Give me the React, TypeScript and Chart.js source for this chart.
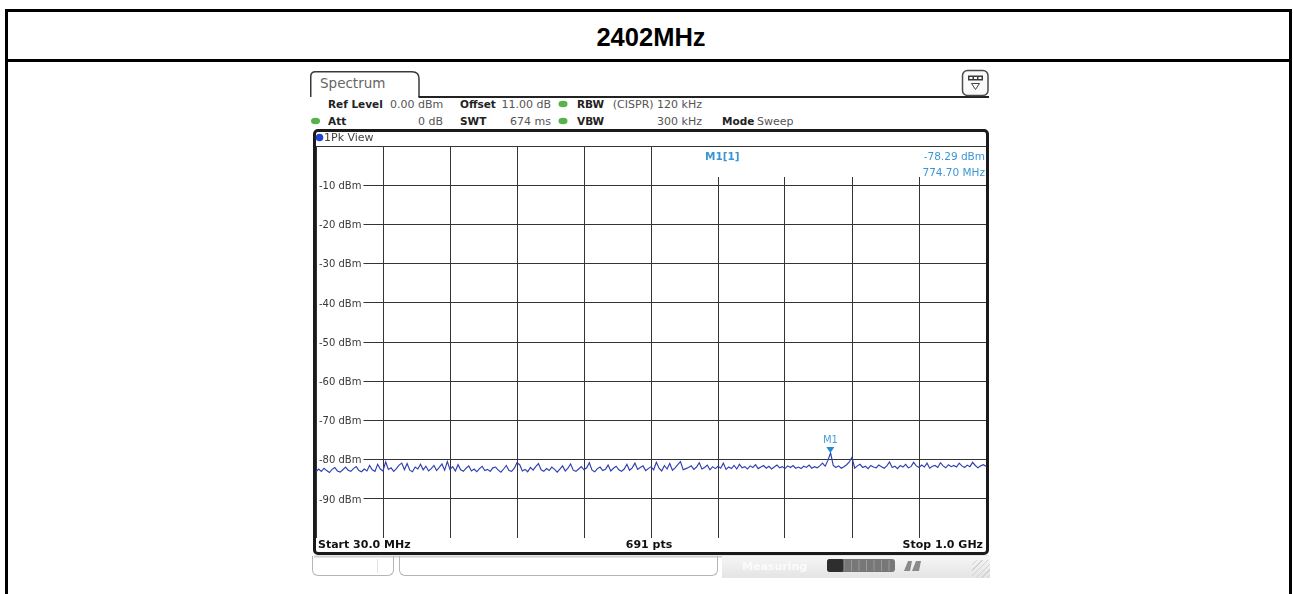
import React, { useEffect, useRef } from 'react';
import { Chart, registerables } from 'chart.js';

Chart.register(...registerables);

// ---------- data ----------
const TITLE = '2402MHz';
const START_MHZ = 30;
const STOP_MHZ = 1000;
const TOP_DBM = 0;
const BOTTOM_DBM = -100;
const Y_TICKS = [-10, -20, -30, -40, -50, -60, -70, -80, -90];
const X_DIVISIONS = 10;
const SWEEP_POINTS = 691;
const MARKER_NAME = 'M1';
const MARKER_FREQ_MHZ = 774.7;
const MARKER_LEVEL_DBM = -78.29;

const HEADER_ROW1 = ['Ref Level', '0.00 dBm', 'Offset', '11.00 dB', 'RBW', '(CISPR) 120 kHz'];
const HEADER_ROW2 = ['Att', '0 dB', 'SWT', '674 ms', 'VBW', '300 kHz', 'Mode', 'Sweep'];

// trace level (dBm), read along the sweep from start to stop
const TRACE_DBM = [
  -83.1, -82.4, -83.0, -82.2, -82.8, -83.3, -82.5, -82.0, -82.9, -83.2,
  -82.6, -81.9, -82.7, -83.0, -82.3, -81.8, -82.8, -83.1, -82.4, -82.9,
  -81.5, -82.6, -83.0, -81.2, -82.4, -82.9, -80.6, -82.5, -82.1, -83.0,
  -82.3, -81.4, -80.9, -82.6, -81.0, -82.7, -83.1, -81.9, -82.4, -81.2,
  -82.6, -81.7, -82.9, -82.3, -81.5, -82.8, -82.0, -81.1, -82.7, -80.5,
  -82.5, -81.8, -82.9, -81.3, -82.6, -83.0, -82.2, -81.6, -82.9, -82.4,
  -83.1, -82.3, -81.7, -82.8, -82.5, -83.0, -82.1, -81.9, -82.7, -83.2,
  -82.4, -81.5, -82.8, -83.0, -82.2, -80.8, -81.3, -82.9, -82.5, -83.1,
  -82.0, -82.7, -81.8, -81.0, -82.6, -83.0, -82.3, -82.8, -81.9, -82.5,
  -83.2, -82.4, -81.6, -82.9, -82.2, -81.1, -82.7, -83.0, -82.4, -81.8,
  -82.6, -82.1, -80.8, -82.7, -83.1, -82.3, -81.9, -82.8, -82.5, -81.4,
  -82.9, -82.2, -81.7, -82.6, -83.0, -82.4, -81.2, -82.7, -82.1, -80.9,
  -82.5, -82.0, -81.6, -82.8, -82.3, -81.8, -82.6, -80.7, -82.2, -82.9,
  -81.5, -82.4, -81.0, -82.7, -82.1, -81.3, -80.5, -82.6, -82.3, -82.0,
  -81.6, -82.5, -81.9, -80.8, -82.4, -82.0, -81.4, -82.6, -81.8, -82.3,
  -81.7, -82.2, -80.9, -82.5, -81.9, -82.3, -81.5, -82.4, -81.2, -82.1,
  -81.8, -82.4, -81.6, -82.0, -81.3, -82.3, -81.9, -81.5, -82.2, -81.7,
  -82.4, -81.9, -81.4, -82.1, -81.8, -82.3, -81.6, -82.0, -81.5, -82.2,
  -81.9, -82.3, -81.7, -82.0, -81.4, -82.2, -81.8, -82.1, -81.6, -80.9,
  -81.7, -80.2, -78.3, -81.5, -82.0, -81.6, -82.2, -81.8, -81.3, -80.6,
  -79.4, -82.2, -81.6, -81.2, -82.0, -81.7, -82.3, -81.5, -81.9, -82.1,
  -81.4, -81.8, -82.2, -81.6, -80.6, -82.0, -81.7, -82.3, -81.5, -81.9,
  -81.2, -82.1, -81.8, -80.7, -81.6, -82.0, -81.4, -81.9, -80.9, -82.2,
  -81.7, -81.5, -82.0, -80.8, -81.6, -82.1, -81.3, -81.8, -81.5, -81.9,
  -80.9, -81.6, -82.0, -81.4, -81.8, -80.7, -81.5, -82.1, -81.6, -81.3,
  -81.7,
];

const FONT = '"DejaVu Sans", Verdana, sans-serif';
const MARK_BLUE = '#3a97d4';

// ---------- helpers ----------
type TP = {
  x: number; y: number; size: number; bold?: boolean; color?: string;
  align?: 'left' | 'right' | 'center'; family?: string; children: React.ReactNode;
};
function T({ x, y, size, bold, color = '#222', align = 'left', family = FONT, children }: TP) {
  const L = Math.round(size * 1.4);
  const style: React.CSSProperties = {
    position: 'absolute', top: y - L / 2, fontSize: size, lineHeight: L + 'px',
    fontFamily: family, fontWeight: bold ? 700 : 400, color, whiteSpace: 'nowrap',
  };
  if (align === 'left') style.left = x;
  else if (align === 'right') { style.left = x - 600; style.width = 600; style.textAlign = 'right'; }
  else { style.left = x - 300; style.width = 600; style.textAlign = 'center'; }
  return <div style={style}>{children}</div>;
}

const overlayPlugin = {
  id: 'rsOverlay',
  beforeDatasetsDraw(chart: any) {
    const { ctx, chartArea, scales } = chart;
    const xs = scales.x, ys = scales.y;
    ctx.save();
    // level labels inside the diagram
    ctx.font = `10px ${FONT}`;
    ctx.textBaseline = 'alphabetic';
    for (const v of Y_TICKS) {
      const y = ys.getPixelForValue(v);
      const label = `${v} dBm`;
      const w = ctx.measureText(label).width;
      ctx.fillStyle = '#fff';
      ctx.fillRect(chartArea.left + 1, y - 6, w + 4, 12);
      ctx.fillStyle = '#383838';
      ctx.fillText(label, chartArea.left + 3, y + 3.8);
    }
    // marker info field
    const mid = xs.getPixelForValue(START_MHZ + (STOP_MHZ - START_MHZ) / 2);
    const bx = Math.round(mid) + 1;
    ctx.fillStyle = '#fff';
    ctx.fillRect(bx, chartArea.top + 1, chartArea.right - bx - 1, 30);
    ctx.fillStyle = MARK_BLUE;
    ctx.font = `bold 10.5px ${FONT}`;
    ctx.textAlign = 'left';
    ctx.fillText(`${MARKER_NAME}[1]`, mid + 54, chartArea.top + 14);
    ctx.font = `10.5px ${FONT}`;
    ctx.textAlign = 'right';
    ctx.fillText(`${MARKER_LEVEL_DBM.toFixed(2)} dBm`, chartArea.right - 1, chartArea.top + 14);
    ctx.fillText(`${MARKER_FREQ_MHZ.toFixed(2)} MHz`, chartArea.right - 1, chartArea.top + 29.5);
    ctx.restore();
  },
  afterDatasetsDraw(chart: any) {
    const { ctx, scales } = chart;
    const px = scales.x.getPixelForValue(MARKER_FREQ_MHZ);
    const py = scales.y.getPixelForValue(MARKER_LEVEL_DBM);
    ctx.save();
    ctx.fillStyle = '#1f8ad6';
    ctx.beginPath();
    ctx.moveTo(px - 4, py - 6);
    ctx.lineTo(px + 4, py - 6);
    ctx.lineTo(px, py);
    ctx.closePath();
    ctx.fill();
    ctx.font = `10px ${FONT}`;
    ctx.textAlign = 'center';
    ctx.fillStyle = '#4a9fd8';
    ctx.fillText(MARKER_NAME, px, py - 9.5);
    ctx.restore();
  },
};

function SpectrumChart() {
  const ref = useRef<HTMLCanvasElement | null>(null);
  useEffect(() => {
    if (!ref.current) return;
    const n = TRACE_DBM.length;
    const pts = TRACE_DBM.map((v, i) => ({
      x: START_MHZ + (i * (STOP_MHZ - START_MHZ)) / (n - 1),
      y: v,
    }));
    const chart = new Chart(ref.current, {
      type: 'line',
      data: {
        datasets: [{
          data: pts,
          borderColor: '#2f3fb2',
          borderWidth: 1.15,
          pointRadius: 0,
          tension: 0,
          fill: false,
        }],
      },
      options: {
        animation: false,
        responsive: false,
        maintainAspectRatio: false,
        layout: { padding: 0 },
        events: [],
        plugins: { legend: { display: false }, tooltip: { enabled: false } },
        scales: {
          x: {
            type: 'linear', min: START_MHZ, max: STOP_MHZ,
            ticks: { display: false, stepSize: (STOP_MHZ - START_MHZ) / X_DIVISIONS, maxTicksLimit: 20 },
            grid: { color: '#343434', lineWidth: 1, drawTicks: false },
            border: { display: false },
          },
          y: {
            type: 'linear', min: BOTTOM_DBM, max: TOP_DBM,
            ticks: { display: false, stepSize: 10, maxTicksLimit: 20 },
            grid: { color: '#343434', lineWidth: 1, drawTicks: false },
            border: { display: false },
          },
        },
      },
      plugins: [overlayPlugin],
    } as any);
    return () => chart.destroy();
  }, []);
  return (
    <canvas ref={ref} width={670} height={392}
      style={{ position: 'absolute', left: 316, top: 146, width: 670, height: 392 }} />
  );
}

export default function App() {
  return (
    <div style={{ position: 'absolute', left: 0, top: 0, width: 1293, height: 594, overflow: 'hidden', background: '#fff' }}>
      {/* outer table */}
      <div style={{ position: 'absolute', left: 5, top: 9, width: 1287, height: 640, border: '3px solid #000', boxSizing: 'border-box' }} />
      <div style={{ position: 'absolute', left: 5, top: 59, width: 1287, height: 3, background: '#000' }} />
      <T x={651} y={37} size={25.5} bold align="center" color="#000" family='"Liberation Sans", Arial, sans-serif'>{TITLE}</T>

      {/* chrome shapes */}
      <svg width={1293} height={594} style={{ position: 'absolute', left: 0, top: 0 }}>
        <path d="M310.75,97 V76.5 Q310.75,71.75 315.5,71.75 H412 Q419,71.75 419,78.5 V97" fill="#fff" stroke="#3a3a3a" strokeWidth={1.5} />
        <line x1={418.5} y1={97} x2={989} y2={97} stroke="#222" strokeWidth={2} />
        {/* menu icon */}
        <rect x={962.5} y={70.5} width={25.5} height={25} rx={5} fill="#fafafa" stroke="#4a4a4a" strokeWidth={1.5} />
        <rect x={968} y={75.5} width={15} height={5} fill="#3a3a3a" />
        <rect x={969.5} y={77} width={3} height={2} fill="#fff" />
        <rect x={974} y={77} width={3} height={2} fill="#fff" />
        <rect x={978.5} y={77} width={3} height={2} fill="#fff" />
        <path d="M971.5,83.5 H979.5 L975.5,89.5 Z" fill="none" stroke="#444" strokeWidth={1} />
        {/* status dots */}
        <ellipse cx={563} cy={104} rx={4.5} ry={3.2} fill="#56b24a" />
        <ellipse cx={563} cy={121} rx={4.5} ry={3.2} fill="#56b24a" />
        <ellipse cx={315.5} cy={121} rx={4.5} ry={3.2} fill="#56b24a" />
        {/* frame shadow */}
        <line x1={314} y1={556.5} x2={989} y2={556.5} stroke="#cfcfcf" strokeWidth={2} />
      </svg>

      {/* tab title and settings */}
      <T x={320} y={83.5} size={13.5} color="#666">Spectrum</T>
      <T x={328} y={104} size={10.5} bold>{HEADER_ROW1[0]}</T>
      <T x={390} y={104} size={11} color="#555">{HEADER_ROW1[1]}</T>
      <T x={460} y={104} size={10.5} bold>{HEADER_ROW1[2]}</T>
      <T x={551} y={104} size={11} color="#555" align="right">{HEADER_ROW1[3]}</T>
      <T x={577} y={104} size={10.5} bold>{HEADER_ROW1[4]}</T>
      <T x={702} y={104} size={11} color="#555" align="right">{HEADER_ROW1[5]}</T>

      <T x={328} y={121} size={10.5} bold>{HEADER_ROW2[0]}</T>
      <T x={443} y={121} size={11} color="#555" align="right">{HEADER_ROW2[1]}</T>
      <T x={460} y={121} size={10.5} bold>{HEADER_ROW2[2]}</T>
      <T x={551} y={121} size={11} color="#555" align="right">{HEADER_ROW2[3]}</T>
      <T x={577} y={121} size={10.5} bold>{HEADER_ROW2[4]}</T>
      <T x={702} y={121} size={11} color="#555" align="right">{HEADER_ROW2[5]}</T>
      <T x={722} y={121} size={10.5} bold>{HEADER_ROW2[6]}</T>
      <T x={757} y={121} size={11} color="#555">{HEADER_ROW2[7]}</T>

      {/* diagram */}
      <SpectrumChart />
      <div style={{ position: 'absolute', left: 313, top: 129, width: 676, height: 426, border: '3px solid #1a1a1a', borderRadius: 5, boxSizing: 'border-box', pointerEvents: 'none' }} />
      <svg width={20} height={20} style={{ position: 'absolute', left: 312, top: 130 }}>
        <circle cx={7.5} cy={7.5} r={3.8} fill="#2244cc" />
      </svg>
      <T x={324} y={137.5} size={11} color="#444">1Pk View</T>

      <T x={318} y={544.5} size={11} bold color="#111">{`Start ${START_MHZ.toFixed(1)} MHz`}</T>
      <T x={649} y={544.5} size={11} bold color="#111" align="center">{`${SWEEP_POINTS} pts`}</T>
      <T x={983} y={544.5} size={11} bold color="#111" align="right">{`Stop ${(STOP_MHZ / 1000).toFixed(1)} GHz`}</T>

      {/* softkey / status bar */}
      <div style={{ position: 'absolute', left: 312, top: 556, width: 82, height: 20, border: '1px solid #b5b5b5', borderTop: 'none', borderRadius: '0 0 6px 6px', boxSizing: 'border-box' }} />
      <div style={{ position: 'absolute', left: 377, top: 559, width: 1, height: 14, background: '#e2e2e2' }} />
      <div style={{ position: 'absolute', left: 399, top: 556, width: 319, height: 20, border: '1px solid #b5b5b5', borderTop: 'none', borderRadius: '0 0 6px 6px', boxSizing: 'border-box' }} />
      <div style={{ position: 'absolute', left: 722, top: 556, width: 268, height: 22, background: 'linear-gradient(to bottom, #f6f6f6, #e4e4e4)' }} />
      <div style={{ position: 'absolute', left: 972, top: 560, width: 18, height: 18, background: 'repeating-linear-gradient(135deg, transparent 0 3px, #d2d2d2 3px 4px)' }} />
      <T x={742} y={566} size={11} bold color="#fbfbfb">Measuring</T>
      <svg width={110} height={20} style={{ position: 'absolute', left: 822, top: 557 }}>
        <rect x={5} y={2} width={68} height={13} rx={3} fill="#777" />
        <rect x={5} y={2} width={17} height={13} rx={3} fill="#2e2e2e" />
        {[22, 29.5, 37, 44.5, 52, 59.5, 67].map((x) => (
          <line key={x} x1={x} y1={3} x2={x} y2={14} stroke="#9a9a9a" strokeWidth={1} />
        ))}
        <path d="M82,14 L86,4 L90,4 L88,14 Z M90,14 L94,4 L99,4 L97,14 Z" fill="#8a8a8a" />
      </svg>
    </div>
  );
}
